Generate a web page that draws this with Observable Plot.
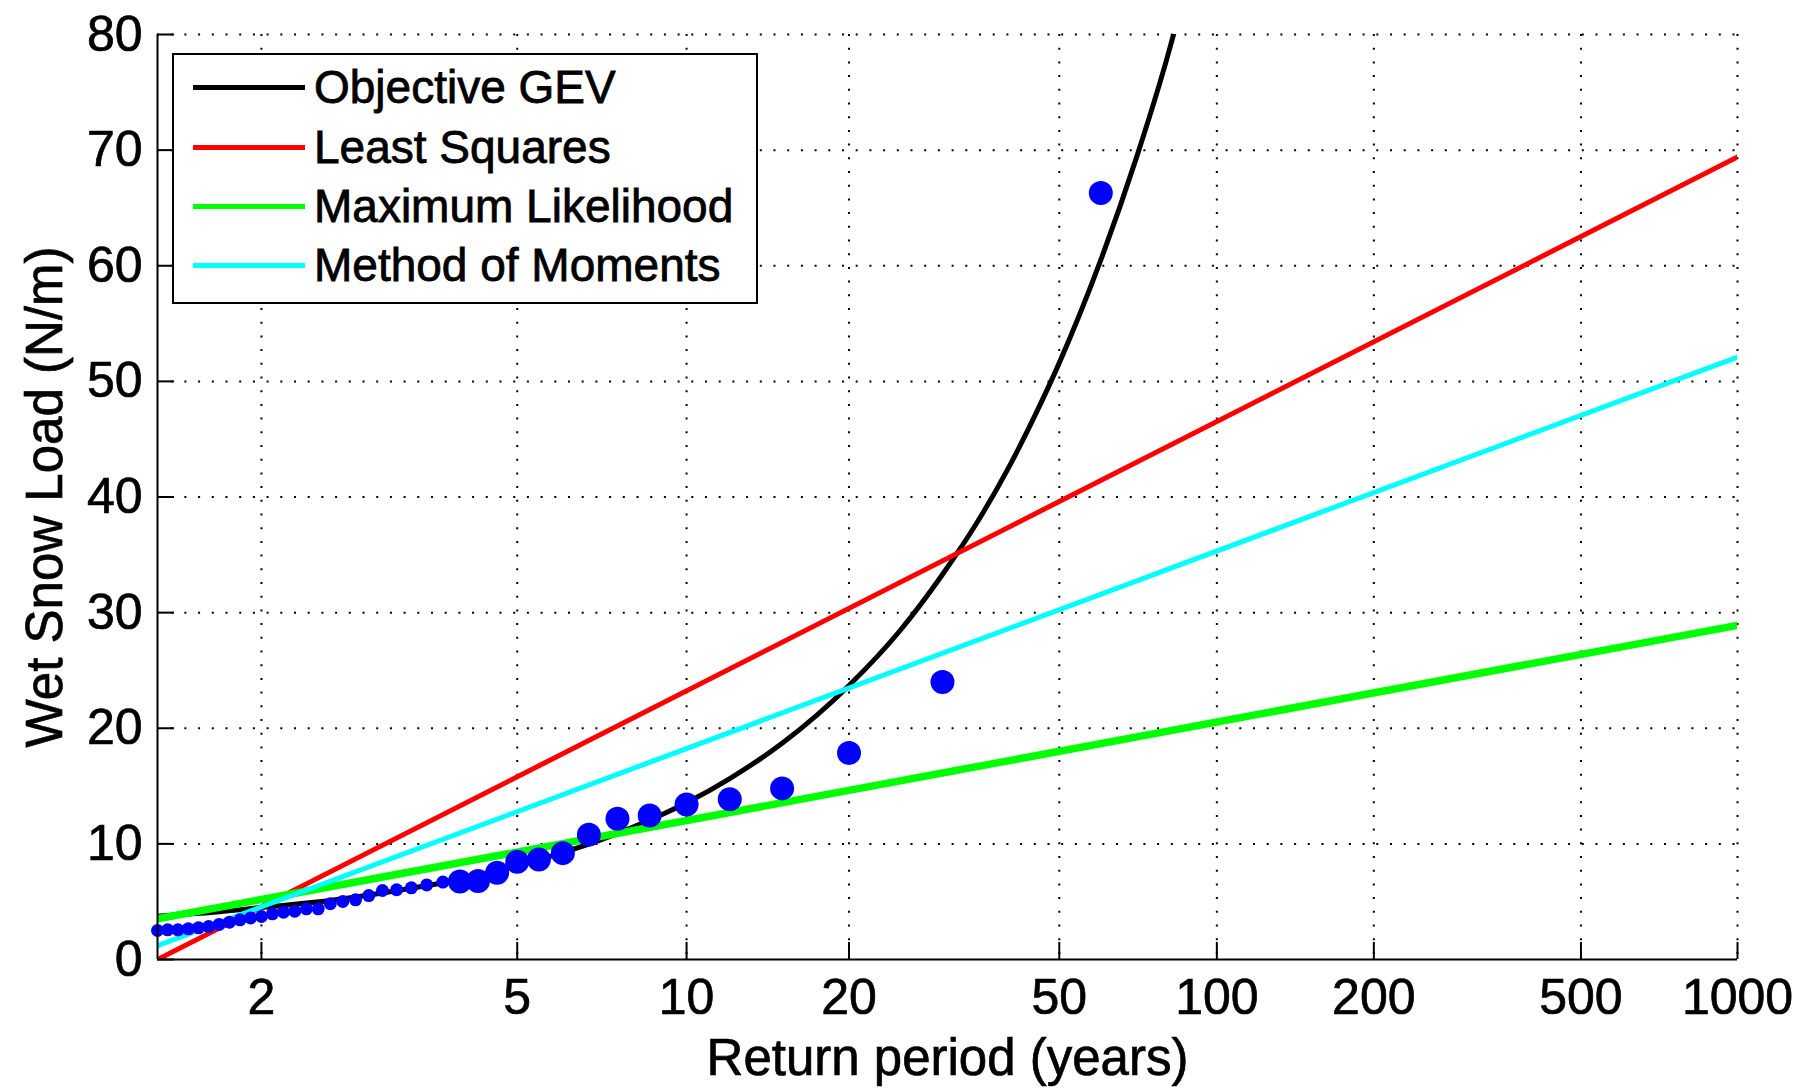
<!DOCTYPE html>
<html>
<head>
<meta charset="utf-8">
<script src="https://cdn.jsdelivr.net/npm/d3@7"></script>
<script src="https://cdn.jsdelivr.net/npm/@observablehq/plot@0.6"></script>
<style>
  body { margin: 0; background: #fff; }
  #wrap { position: relative; width: 1801px; height: 1089px; font-family: "Liberation Sans", Arial, Helvetica, sans-serif; }
  #wrap svg text { stroke: #000; stroke-width: 0.7px; }
  #legend { position: absolute; left: 172px; top: 53px; width: 582px; height: 247px; border: 2px solid #000; background: #fff; }
  .row { position: absolute; left: 0; width: 100%; height: 0; }
  .sw { position: absolute; left: 19px; width: 112px; height: 5px; top: -2.5px; }
  .lab { position: absolute; left: 140px; top: 0; font-size: 46px; line-height: 1; transform: translateY(-50%); white-space: nowrap; color: #000; -webkit-text-stroke: 0.8px #000; }
</style>
</head>
<body>
<div id="wrap"><div id="legend"></div></div>
<script>
// ---------- data ----------
const xTickValues = [2, 5, 10, 20, 50, 100, 200, 500, 1000];
const xTickLabels = ["2", "5", "10", "20", "50", "100", "200", "500", "1000"];
const yTickValues = [0, 10, 20, 30, 40, 50, 60, 70, 80];
const xDomainT = [1.5, 1000];
const yDomain = [0, 80];
const xLabel = "Return period (years)";
const yLabel = "Wet Snow Load (N/m)";

// observed annual maxima (large markers): return period T (years) and load W (N/m)
const bigT = [4, 4.29, 4.62, 5, 5.45, 6, 6.67, 7.5, 8.57, 10, 12, 15, 20, 30, 60];
const bigW = [6.75, 6.78, 7.5, 8.45, 8.65, 9.2, 10.8, 12.17, 12.45, 13.4, 13.85, 14.8, 17.85, 24.0, 66.3];
// observed (small markers)
const smallT = [1.5, 1.538, 1.579, 1.622, 1.667, 1.714, 1.765, 1.818, 1.875, 1.935, 2.0, 2.069, 2.143, 2.222, 2.308, 2.4, 2.5, 2.609, 2.727, 2.857, 3.0, 3.158, 3.333, 3.529, 3.75];
const smallW = [2.51, 2.57, 2.57, 2.65, 2.74, 2.85, 3.03, 3.23, 3.43, 3.6, 3.72, 3.95, 4.09, 4.18, 4.38, 4.38, 4.82, 5.02, 5.16, 5.53, 5.97, 6.03, 6.2, 6.45, 6.7];

// fitted curves
const gevT = [1.5, 1.75, 2, 2.5, 3, 3.5, 4, 4.5, 5, 6, 7, 8, 10, 12, 15, 20, 25, 30, 35, 40, 45, 50, 60, 70, 80, 85];
const gevW = [3.75, 4.1, 4.5, 5.1, 5.75, 6.35, 6.9, 7.5, 8.1, 9.25, 10.35, 11.45, 13.55, 15.65, 18.7, 23.7, 28.5, 33.3, 37.9, 42.5, 47.1, 51.6, 60.5, 69.2, 77.7, 82.0];
const lsT = [1.5, 1000];
const lsW = [0.0, 69.4];
const mlT = [1.5, 1000];
const mlW = [3.52, 28.9];
const mmT = [1.5, 1000];
const mmW = [1.2, 52.1];

const seriesNames = ["Objective GEV", "Least Squares", "Maximum Likelihood", "Method of Moments"];
const seriesColors = ["#000000", "#ff0000", "#00ff00", "#00ffff"];

// ---------- Gumbel probability axis ----------
const gumbel = T => -Math.log(-Math.log(1 - 1 / T));
const xTickG = xTickValues.map(gumbel);
const fmtX = d => {
  const i = xTickG.findIndex(v => Math.abs(v - d) < 1e-9);
  return i >= 0 ? xTickLabels[i] : "";
};

const W = 1801, H = 1089;
const mL = 157, mR = 64, mT = 34, mB = 130;
const frameW = W - mL - mR, frameH = H - mT - mB;
const tickLen = 17;
const font = '"Liberation Sans", Arial, Helvetica, sans-serif';
const gridStyle = { stroke: "#000", strokeOpacity: 1, strokeWidth: 2, strokeDasharray: "2 11.7" };

const chart = Plot.plot({
  width: W, height: H,
  marginLeft: mL, marginRight: mR, marginTop: mT, marginBottom: mB,
  style: { fontFamily: font, fontSize: "50px", color: "#000", background: "#fff", overflow: "visible" },
  x: { type: "linear", domain: xDomainT.map(gumbel), axis: null },
  y: { type: "linear", domain: yDomain, axis: null },
  marks: [
    Plot.gridX(xTickG, gridStyle),
    Plot.gridY(yTickValues.slice(1), gridStyle),
    Plot.line(gevT, { x: T => gumbel(T), y: gevW, stroke: seriesColors[0], strokeWidth: 5, curve: "monotone-x", clip: true }),
    Plot.line(lsT, { x: T => gumbel(T), y: lsW, stroke: seriesColors[1], strokeWidth: 5, clip: true }),
    Plot.line(mlT, { x: T => gumbel(T), y: mlW, stroke: seriesColors[2], strokeWidth: 7.5, clip: true }),
    Plot.line(mmT, { x: T => gumbel(T), y: mmW, stroke: seriesColors[3], strokeWidth: 5, clip: true }),
    Plot.dot(smallT, { x: T => gumbel(T), y: smallW, r: 6.5, fill: "#0000ff", stroke: "none" }),
    Plot.dot(bigT, { x: T => gumbel(T), y: bigW, r: 12, fill: "#0000ff", stroke: "none" }),
    // axis lines
    Plot.ruleY([yDomain[0]], { stroke: "#000", strokeWidth: 2 }),
    Plot.ruleX([xDomainT[0]], { x: T => gumbel(T), stroke: "#000", strokeWidth: 2 }),
    // inward ticks
    Plot.ruleX(xTickValues, { x: T => gumbel(T), stroke: "#000", strokeWidth: 2, insetTop: frameH - tickLen }),
    Plot.ruleY(yTickValues, { y: d => d, stroke: "#000", strokeWidth: 2, insetRight: frameW - tickLen }),
    // tick labels
    Plot.axisX({ ticks: xTickG, tickFormat: fmtX, tickSize: 0, tickPadding: 19, fontSize: 50, label: null }),
    Plot.axisY({ ticks: yTickValues, tickSize: 0, tickPadding: 15, fontSize: 50, label: null }),
    // axis titles
    Plot.text([xLabel], { text: d => d, frameAnchor: "bottom", dy: 99, fontSize: 51, lineAnchor: "middle", textAnchor: "middle" }),
    Plot.text([yLabel], { text: d => d, frameAnchor: "left", rotate: -90, dx: -112, fontSize: 51, lineAnchor: "middle", textAnchor: "middle" })
  ]
});

const wrap = document.getElementById("wrap");
wrap.insertBefore(chart, wrap.firstChild);

// legend
const legend = document.getElementById("legend");
const rowY = [32, 92, 151, 210];
seriesNames.forEach((name, i) => {
  const row = document.createElement("div");
  row.className = "row";
  row.style.top = rowY[i] + "px";
  const sw = document.createElement("div");
  sw.className = "sw";
  sw.style.background = seriesColors[i];
  const lab = document.createElement("div");
  lab.className = "lab";
  lab.textContent = name;
  row.appendChild(sw);
  row.appendChild(lab);
  legend.appendChild(row);
});
</script>
</body>
</html>
